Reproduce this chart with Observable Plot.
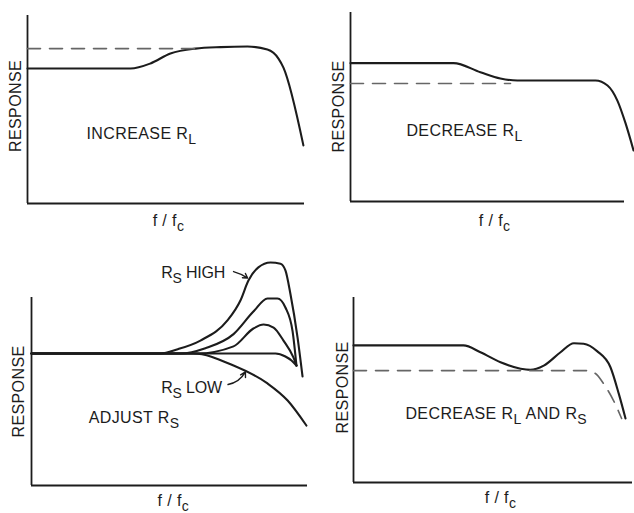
<!DOCTYPE html>
<html>
<head>
<meta charset="utf-8">
<script src="https://cdn.jsdelivr.net/npm/d3@7"></script>
<script src="https://cdn.jsdelivr.net/npm/@observablehq/plot@0.6"></script>
<style>
  html, body { margin: 0; padding: 0; background: #fff; }
  #chart { position: relative; width: 634px; height: 513px; background: #fff; overflow: hidden; }
  #chart > svg { position: absolute; overflow: visible; }
  .note { letter-spacing: -0.2px; }
</style>
</head>
<body>
<div id="chart"></div>
<script>
// ---------- data (x = f/fc, y = response, arbitrary units 0..10) ----------
// Panel 1: increase RL
const p1SolidX = [0, 3.72, 4.44, 5.16, 6.06, 6.97, 7.94, 8.66, 9.06, 9.24, 9.96];
const p1SolidY = [7.18, 7.18, 7.45, 7.98, 8.24, 8.32, 8.35, 8.19, 7.71, 7.23, 3.09];
const p1DashX = [0, 6.06];
const p1DashY = [8.24, 8.24];

// Panel 2: decrease RL
const p2SolidX = [0, 3.76, 4.74, 5.47, 6.09, 8.94, 9.38, 9.74, 10.04, 10.33];
const p2SolidY = [7.32, 7.32, 6.84, 6.51, 6.40, 6.40, 6.14, 5.34, 4.13, 2.70];
const p2DashX = [0, 5.84];
const p2DashY = [6.24, 6.24];

// Panel 3: adjust RS (family of curves)
const p3HighX = [0, 4.67, 5.3, 6.12, 7.10, 7.57, 7.86, 8.22, 8.66, 9.02, 9.20, 9.38, 9.64, 9.82];
const p3HighY = [7.02, 7.02, 7.25, 7.71, 8.78, 9.84, 10.9, 11.6, 11.86, 11.8, 11.44, 10.2, 7.87, 5.8];
const p3MidX = [0, 5.4, 6.3, 7.32, 8.04, 8.55, 8.91, 9.20, 9.46, 9.60];
const p3MidY = [7.02, 7.02, 7.3, 8.05, 9.25, 9.95, 9.95, 9.47, 8.2, 6.38];
const p3LowerX = [0, 6.0, 7.32, 8.04, 8.41, 8.77, 9.13, 9.49, 9.60];
const p3LowerY = [7.02, 7.02, 7.40, 8.35, 8.56, 8.40, 7.71, 6.81, 6.38];
const p3FlatX = [0, 8.84, 9.20, 9.42, 9.60];
const p3FlatY = [7.02, 7.02, 6.86, 6.65, 6.38];
const p3LowX = [0, 5.87, 7.32, 8.55, 9.28, 9.96];
const p3LowY = [7.02, 7.02, 6.38, 5.43, 4.52, 3.19];

// Panel 4: decrease RL and RS
const p4SolidX = [0, 3.94, 4.55, 5.27, 5.99, 6.34, 6.82, 7.42, 7.90, 8.25, 8.73, 9.21, 9.51, 9.75];
const p4SolidY = [7.41, 7.41, 7.04, 6.50, 6.15, 6.09, 6.32, 7.04, 7.53, 7.50, 7.10, 6.23, 4.79, 3.46];
const p4DashX = [0, 8.32, 8.67, 8.96, 9.32, 9.61];
const p4DashY = [6.05, 6.05, 5.89, 5.35, 4.43, 3.46];

// Text labels
const yLabel = "RESPONSE";
const xLabel = "f / f_{c}";
const panelTitles = ["INCREASE R_{L}", "DECREASE R_{L}", "ADJUST R_{S}", "DECREASE R_{L} AND R_{S}"];
const titleX = [2.13, 2.04, 2.07, 1.86];
const titleY = [3.72, 3.76, 3.62, 3.73];
const yLabelX = [-0.43, -0.44, -0.47, -0.39];
const yLabelY = [5.19, 5.03, 5.0, 5.14];
const xLabelX = [5.09, 5.26, 5.14, 5.27];
const xLabelY = [-0.9, -1.0, -0.8, -0.85];
const noteText = ["R_{S} HIGH", "R_{S} LOW"];
const noteX = [4.70, 4.70];
const noteY = [11.33, 5.21];
const arrowX1 = [7.32, 7.12];
const arrowY1 = [11.38, 5.37];
const arrowX2 = [7.83, 7.75];
const arrowY2 = [11.03, 6.04];

// Panel frames (svg box + margins)
const frames = [
  {left: 0,   top: 0,   width: 317, height: 250, ml: 27, mr: 13, mt: 15, mb: 47},
  {left: 317, top: 0,   width: 317, height: 250, ml: 33, mr: 10, mt: 12, mb: 49},
  {left: 0,   top: 250, width: 317, height: 263, ml: 31, mr: 10, mt: 47, mb: 28},
  {left: 317, top: 250, width: 317, height: 263, ml: 36, mr: 2,  mt: 47, mb: 31}
];

// ---------- helpers ----------
const zip = (xs, ys, series) => xs.map((x, i) => ({x, y: ys[i], series}));
const INK = "#1c1c1c";
const FONT = "'Liberation Sans', Arial, sans-serif";
const FS = 16;

function subscriptify(svg) {
  d3.select(svg).selectAll("text").each(function() {
    const s = this.textContent;
    if (!s.includes("_{")) return;
    const parts = s.split(/(_\{[^}]*\})/).filter(p => p.length);
    const t = d3.select(this);
    t.text(null);
    let lowered = false;
    for (const p of parts) {
      const m = p.match(/^_\{([^}]*)\}$/);
      if (m) {
        t.append("tspan").attr("dy", lowered ? 0 : 5).attr("font-size", "14px").text(m[1]);
        lowered = true;
      } else {
        t.append("tspan").attr("dy", lowered ? -5 : 0).text(p);
        lowered = false;
      }
    }
  });
}

function panel(i, solids, dashed, extra = []) {
  const f = frames[i];
  const labels = [
    {x: titleX[i], y: titleY[i], text: panelTitles[i], anchor: "start", rotate: 0},
    {x: xLabelX[i], y: xLabelY[i], text: xLabel, anchor: "middle", rotate: 0},
    {x: yLabelX[i], y: yLabelY[i], text: yLabel, anchor: "middle", rotate: -90}
  ];
  const marks = [
    Plot.ruleX([0], {y1: 0, y2: 10, stroke: INK, strokeWidth: 1.8}),
    Plot.ruleY([0], {x1: 0, x2: 10, stroke: INK, strokeWidth: 1.8}),
    Plot.line(solids, {x: "x", y: "y", z: "series", curve: "monotone-x", stroke: INK, strokeWidth: 2.1, strokeLinecap: "round"}),
  ];
  if (dashed) marks.push(Plot.line(dashed, {x: "x", y: "y", curve: "monotone-x", stroke: "#666", strokeWidth: 1.6, strokeDasharray: "13,9"}));
  marks.push(
    Plot.text(labels.filter(d => d.rotate === 0 && d.anchor === "start"), {x: "x", y: "y", text: "text", textAnchor: "start", lineAnchor: "middle", fontSize: FS, fill: INK}),
    Plot.text(labels.filter(d => d.rotate === 0 && d.anchor === "middle"), {x: "x", y: "y", text: "text", textAnchor: "middle", lineAnchor: "middle", fontSize: FS, fill: INK}),
    Plot.text(labels.filter(d => d.rotate !== 0), {x: "x", y: "y", text: "text", textAnchor: "middle", lineAnchor: "middle", rotate: -90, fontSize: FS, fill: INK}),
    ...extra
  );
  const svg = Plot.plot({
    width: f.width, height: f.height,
    marginLeft: f.ml, marginRight: f.mr, marginTop: f.mt, marginBottom: f.mb,
    x: {domain: [0, 10], axis: null},
    y: {domain: [0, 10], axis: null},
    style: {fontFamily: FONT, fontSize: FS + "px", letterSpacing: "0.4px", background: "transparent", overflow: "visible"},
    marks
  });
  svg.style.left = f.left + "px";
  svg.style.top = f.top + "px";
  subscriptify(svg);
  return svg;
}

const chart = document.getElementById("chart");

chart.append(panel(0, zip(p1SolidX, p1SolidY, "solid"), zip(p1DashX, p1DashY, "dash")));
chart.append(panel(1, zip(p2SolidX, p2SolidY, "solid"), zip(p2DashX, p2DashY, "dash")));

const p3Curves = [
  ...zip(p3HighX, p3HighY, "high"),
  ...zip(p3MidX, p3MidY, "mid"),
  ...zip(p3LowerX, p3LowerY, "lower"),
  ...zip(p3FlatX, p3FlatY, "flat"),
  ...zip(p3LowX, p3LowY, "low")
];
const notes = noteText.map((text, k) => ({text, x: noteX[k], y: noteY[k]}));
const arrows = arrowX1.map((x1, k) => ({x1, y1: arrowY1[k], x2: arrowX2[k], y2: arrowY2[k]}));
chart.append(panel(2, p3Curves, null, [
  Plot.text(notes, {x: "x", y: "y", text: "text", textAnchor: "start", lineAnchor: "middle", fontSize: FS, fill: INK, className: "note"}),
  Plot.arrow(arrows.slice(0, 1), {x1: "x1", y1: "y1", x2: "x2", y2: "y2", bend: 10, headLength: 6, stroke: INK, strokeWidth: 1.4}),
  Plot.arrow(arrows.slice(1), {x1: "x1", y1: "y1", x2: "x2", y2: "y2", bend: -25, headLength: 6, stroke: INK, strokeWidth: 1.4})
]));

chart.append(panel(3, zip(p4SolidX, p4SolidY, "solid"), zip(p4DashX, p4DashY, "dash")));
</script>
</body>
</html>
